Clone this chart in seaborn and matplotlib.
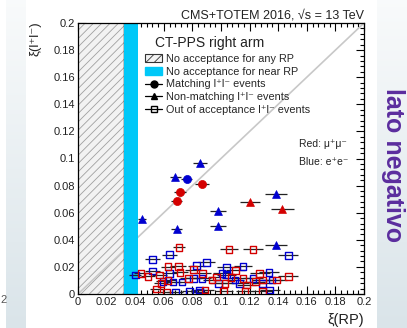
import numpy as np
import pandas as pd
import matplotlib
matplotlib.use("Agg")
import matplotlib.pyplot as plt
import seaborn as sns
from matplotlib.patches import Patch
from matplotlib.lines import Line2D
from matplotlib.ticker import MultipleLocator, FuncFormatter

# ---------------- data ----------------
# Matching l+l- events (circles)
match_x = [0.0867, 0.0713, 0.0690, 0.0760]
match_y = [0.0810, 0.0755, 0.0690, 0.0850]
match_xerr = [0.0047, 0.0040, 0.0040, 0.0040]
match_ch = ["mumu", "mumu", "mumu", "ee"]

# Non-matching l+l- events (triangles)
nonmatch_x = [0.0853, 0.0680, 0.0448, 0.0690, 0.0980, 0.0980, 0.1385, 0.1385, 0.1200, 0.1427]
nonmatch_y = [0.0967, 0.0864, 0.0557, 0.0480, 0.0610, 0.0505, 0.0740, 0.0360, 0.0680, 0.0630]
nonmatch_xerr = [0.0047, 0.0040, 0.0030, 0.0040, 0.0056, 0.0056, 0.0080, 0.0080, 0.0070, 0.0080]
nonmatch_ch = ["ee", "ee", "ee", "ee", "ee", "ee", "ee", "ee", "mumu", "mumu"]

# Out of acceptance l+l- events (open squares), mu+mu-
out_mm_x = [0.0706, 0.1056, 0.1224, 0.0440, 0.0490, 0.0570, 0.0630, 0.0700, 0.0713, 0.0630,
            0.0770, 0.0550, 0.0620, 0.0870, 0.1100, 0.0970, 0.0937, 0.1154, 0.1270, 0.1470,
            0.1290, 0.1390, 0.1028, 0.1180, 0.0888, 0.1020, 0.1168, 0.1290, 0.0810, 0.0580,
            0.1070, 0.1240]
out_mm_y = [0.0344, 0.0330, 0.0330, 0.0154, 0.0130, 0.0140, 0.0200, 0.0205, 0.0160, 0.0100,
            0.0117, 0.0037, 0.0015, 0.0154, 0.0176, 0.0125, 0.0103, 0.0117, 0.0154, 0.0132,
            0.0103, 0.0103, 0.0080, 0.0066, 0.0030, 0.0020, 0.0020, 0.0020, 0.0180, 0.0080,
            0.0120, 0.0090]
out_mm_xerr = [0.0040, 0.0064, 0.0070, 0.0050, 0.0050, 0.0050, 0.0050, 0.0055, 0.0055, 0.0055,
               0.0060, 0.0050, 0.0055, 0.0060, 0.0065, 0.0060, 0.0060, 0.0065, 0.0070, 0.0070,
               0.0070, 0.0075, 0.0065, 0.0065, 0.0060, 0.0065, 0.0065, 0.0070, 0.0060, 0.0050,
               0.0065, 0.0070]

# Out of acceptance l+l- events (open squares), e+e-
out_ee_x = [0.0640, 0.0520, 0.0400, 0.0520, 0.0640, 0.0594, 0.0664, 0.0727, 0.0830, 0.0810,
            0.0680, 0.0780, 0.0850, 0.0900, 0.1470, 0.1040, 0.1154, 0.1007, 0.1040, 0.0867,
            0.1098, 0.1336, 0.1224, 0.1357, 0.0980, 0.1130, 0.1290, 0.1340, 0.0850]
out_ee_y = [0.0290, 0.0256, 0.0140, 0.0170, 0.0154, 0.0095, 0.0088, 0.0088, 0.0210, 0.0117,
            0.0015, 0.0020, 0.0015, 0.0234, 0.0286, 0.0198, 0.0205, 0.0154, 0.0140, 0.0117,
            0.0103, 0.0160, 0.0117, 0.0103, 0.0080, 0.0080, 0.0080, 0.0030, 0.0030]
out_ee_xerr = [0.0050, 0.0050, 0.0040, 0.0050, 0.0050, 0.0050, 0.0055, 0.0055, 0.0060, 0.0060,
               0.0055, 0.0055, 0.0060, 0.0060, 0.0070, 0.0065, 0.0065, 0.0065, 0.0065, 0.0060,
               0.0065, 0.0070, 0.0070, 0.0070, 0.0060, 0.0065, 0.0070, 0.0070, 0.0060]

# acceptance limits
no_acc_any = 0.0322
no_acc_near = 0.0417

x_ticks = [0, 0.02, 0.04, 0.06, 0.08, 0.1, 0.12, 0.14, 0.16, 0.18, 0.2]
y_ticks = [0, 0.02, 0.04, 0.06, 0.08, 0.1, 0.12, 0.14, 0.16, 0.18, 0.2]

# ---------------- style ----------------
sns.set_theme(style="ticks")
FAM = ["Liberation Sans", "DejaVu Sans"]
plt.rcParams["font.family"] = FAM
plt.rcParams["hatch.linewidth"] = 0.6

RED = "#d40000"
BLUE = "#0000d0"
CYAN = "#00c8f8"
pal = {"mumu": RED, "ee": BLUE}

W, H = 407, 328
fig = plt.figure(figsize=(W / 100, H / 100), dpi=100)
fig.patch.set_facecolor("white")

# slide background bands
bg = fig.add_axes([0, 0, 1, 1], zorder=-10)
bg.axis("off")
img = np.ones((H, W, 3))
top = np.array([0.975, 0.982, 0.985])
bot = np.array([0.855, 0.895, 0.915])
t = np.linspace(0, 1, H)[:, None]
grad = top[None, :] * (1 - t) + bot[None, :] * t
img[:, 6:26, :] = grad[:, None, :]
img[:, 377:, :] = grad[:, None, :]
bg.imshow(img, aspect="auto", extent=[0, 1, 0, 1])
bg.set_xlim(0, 1)
bg.set_ylim(0, 1)

ax = fig.add_axes([78 / W, 1 - 294 / H, 286 / W, 271 / H])
ax.set_facecolor("white")

# acceptance regions
ax.axvspan(0, no_acc_any, facecolor="#f2f2f2", edgecolor="#a0a0a0", hatch="////", lw=0, zorder=1)
ax.axvline(no_acc_any, color="black", lw=1.0, zorder=2)
ax.axline((0, 0), slope=1, color="#c8c8c8", lw=1.2, zorder=1.5)
ax.axvspan(no_acc_any, no_acc_near, facecolor=CYAN, edgecolor="none", lw=0, zorder=2)

# data frames
df_out = pd.concat([
    pd.DataFrame({"x": out_mm_x, "y": out_mm_y, "xerr": out_mm_xerr, "ch": "mumu"}),
    pd.DataFrame({"x": out_ee_x, "y": out_ee_y, "xerr": out_ee_xerr, "ch": "ee"}),
], ignore_index=True)
df_match = pd.DataFrame({"x": match_x, "y": match_y, "xerr": match_xerr, "ch": match_ch})
df_non = pd.DataFrame({"x": nonmatch_x, "y": nonmatch_y, "xerr": nonmatch_xerr, "ch": nonmatch_ch})

ECOL = "#222222"
for d in (df_out, df_match, df_non):
    ax.errorbar(d["x"], d["y"], xerr=d["xerr"], fmt="none", ecolor=ECOL,
                elinewidth=0.9, capsize=0, zorder=3)

for ch, sub in df_out.groupby("ch"):
    sns.scatterplot(data=sub, x="x", y="y", ax=ax, marker="s", s=24,
                    color=pal[ch], facecolor="none", edgecolor=pal[ch],
                    linewidth=1.0, legend=False, zorder=4)
for ch, sub in df_match.groupby("ch"):
    sns.scatterplot(data=sub, x="x", y="y", ax=ax, marker="o", s=34,
                    color=pal[ch], edgecolor=pal[ch], linewidth=0.5, legend=False, zorder=5)
for ch, sub in df_non.groupby("ch"):
    sns.scatterplot(data=sub, x="x", y="y", ax=ax, marker="^", s=32,
                    color=pal[ch], edgecolor=pal[ch], linewidth=0.5, legend=False, zorder=5)

ax.set_xlim(x_ticks[0], x_ticks[-1])
ax.set_ylim(y_ticks[0], y_ticks[-1])
ax.set_xticks(x_ticks)
ax.set_yticks(y_ticks)
ax.xaxis.set_minor_locator(MultipleLocator(0.004))
ax.yaxis.set_minor_locator(MultipleLocator(0.004))
fmt = FuncFormatter(lambda v, p: "%g" % round(v, 4))
ax.xaxis.set_major_formatter(fmt)
ax.yaxis.set_major_formatter(fmt)
ax.tick_params(which="both", direction="in", top=True, right=True, width=0.8,
               color="black", labelsize=8, pad=2, labelcolor="#222222")
ax.tick_params(which="major", length=6)
ax.tick_params(which="minor", length=3)
for s in ax.spines.values():
    s.set_color("black")
    s.set_linewidth(0.9)
    s.set_visible(True)
ax.set_xlabel("")
ax.set_ylabel("")

# legend
handles = [
    Patch(facecolor="#f2f2f2", edgecolor="#333333", hatch="////", lw=0.8),
    Patch(facecolor=CYAN, edgecolor=CYAN),
    Line2D([], [], color="black", marker="o", ms=5, lw=0.9),
    Line2D([], [], color="black", marker="^", ms=5, lw=0.9),
    Line2D([], [], color="black", marker="s", ms=5, mfc="none", lw=0.9),
]
labels = [
    "No acceptance for any RP",
    "No acceptance for near RP",
    "Matching l\u207al\u207b events",
    "Non-matching l\u207al\u207b events",
    "Out of acceptance l\u207al\u207b events",
]
ax.legend(handles, labels, loc="upper left",
          bbox_to_anchor=((145 - 78) / 286, (294 - 54) / 271),
          frameon=False, handlelength=1.6, handletextpad=0.3,
          labelspacing=0.25, borderpad=0, borderaxespad=0,
          prop={"family": FAM, "size": 7.8})
ax.text((155 - 78) / 286, (294 - 43) / 271, "CT-PPS right arm", transform=ax.transAxes,
        ha="left", va="center", fontsize=10, family=FAM, color="#222222")

ax.text(0.1545, 0.111, "Red: \u03bc\u207a\u03bc\u207b", fontsize=7.5, family=FAM,
        ha="left", va="center", color="#222222", zorder=6)
ax.text(0.1545, 0.0975, "Blue: e\u207ae\u207b", fontsize=7.5, family=FAM,
        ha="left", va="center", color="#222222", zorder=6)

# titles / axis labels
fig.text(364 / W, 1 - 19 / H, "CMS+TOTEM 2016, \u221as = 13 TeV", ha="right",
         va="baseline", fontsize=9, family=FAM, color="#222222")
fig.text(364 / W, 1 - 320 / H, "\u03be(RP)", ha="right", va="center",
         fontsize=10.5, family=FAM, color="#222222")
fig.text(36 / W, 1 - 21 / H, "\u03be(l\u207al\u207b)", ha="center", va="top",
         rotation=90, fontsize=9.5, family=FAM, color="#222222")

# slide decorations
fig.text(393 / W, 1 - 165 / H, "lato negativo", rotation=-90, ha="center", va="center",
         fontsize=18, fontweight="bold", color="#5b2d9e", family=FAM)
fig.text(0, 1 - 300 / H, "2", ha="left", va="center", fontsize=8, color="#555555", family=FAM)

fig.savefig("out.png", dpi=100)
